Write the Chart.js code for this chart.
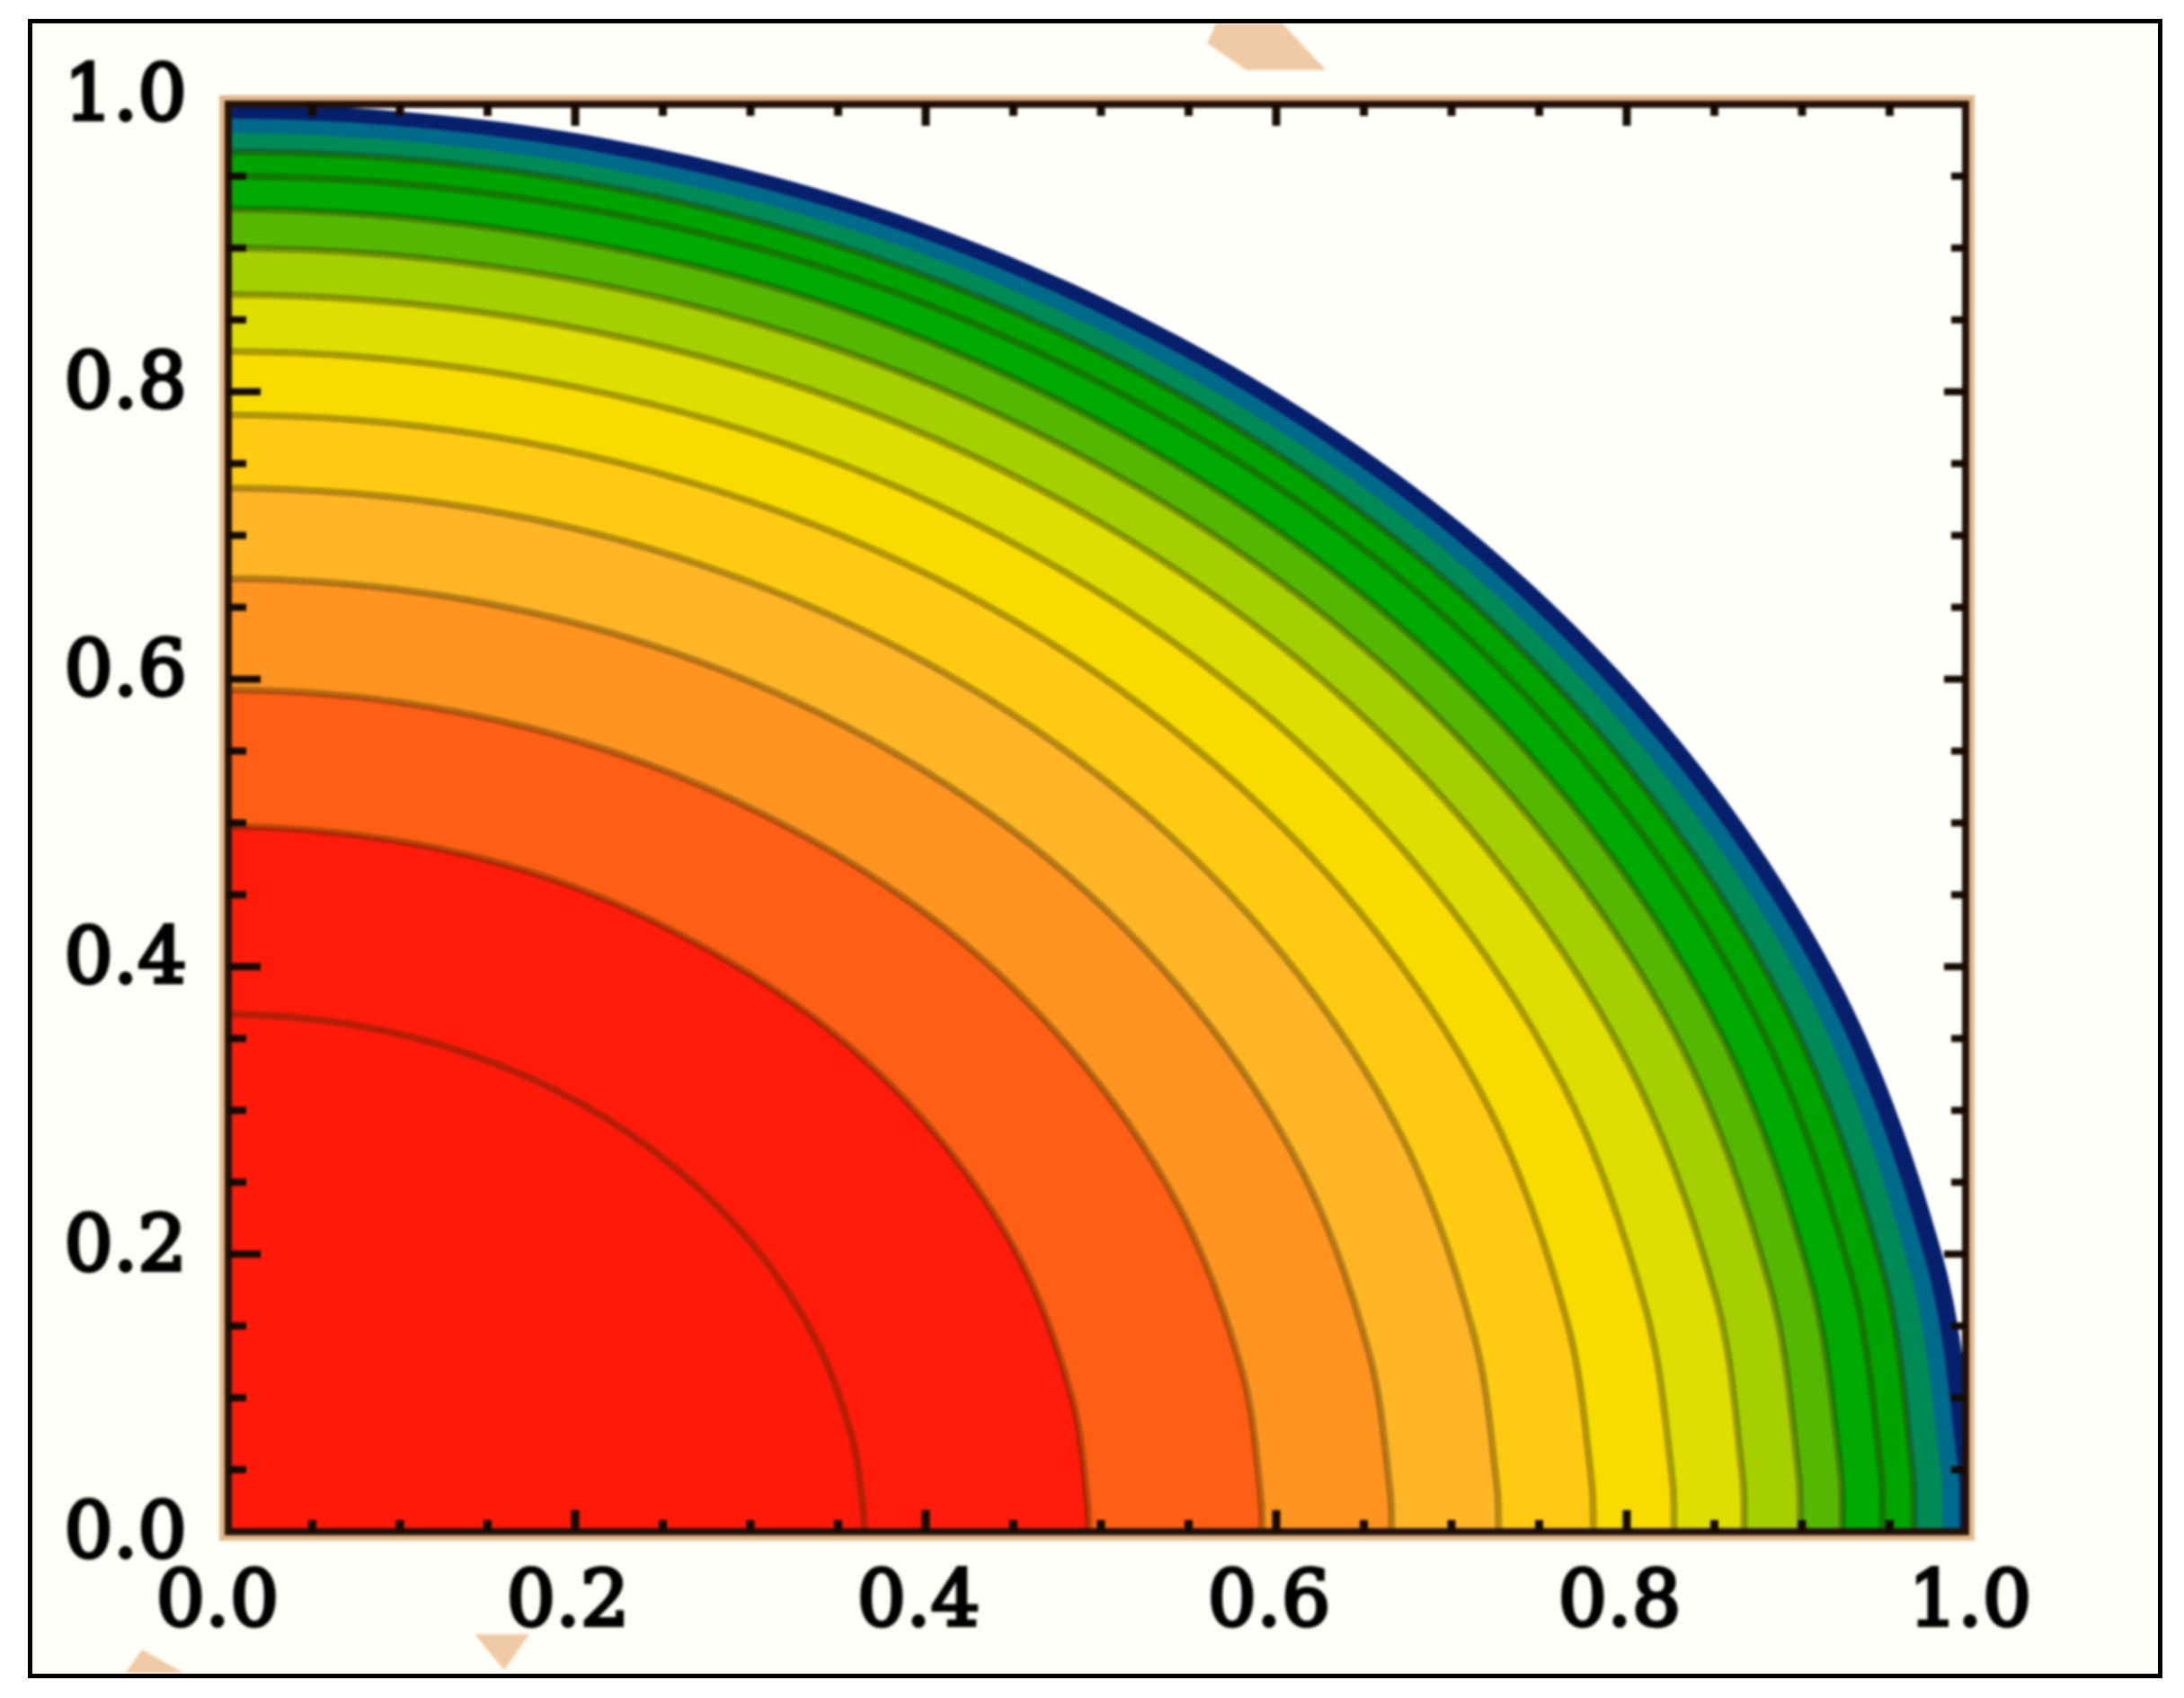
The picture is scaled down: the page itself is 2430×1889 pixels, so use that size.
<!DOCTYPE html>
<html>
<head>
<meta charset="utf-8">
<script src="https://cdn.jsdelivr.net/npm/chart.js@4/dist/chart.umd.min.js"></script>
<style>
html, body { margin: 0; padding: 0; background: #fff; }
canvas { display: block; filter: blur(1.5px); }
#frame { position: absolute; left: 31px; top: 21px; width: 2375px; height: 1846px; box-sizing: border-box; border: 5px solid #000; }
</style>
</head>
<body>
<canvas id="myChart" width="2430" height="1889"></canvas>
<div id="frame"></div>
<script>
// tick labels, every 4th tick (ticks every 0.05)
var xTickLabels = ['0.0', '0.2', '0.4', '0.6', '0.8', '1.0'];
var yTickLabels = ['0.0', '0.2', '0.4', '0.6', '0.8', '1.0'];

// contours, inner to outer
var c1x = [0, .071, .140, .203, .258, .303, .337, .358, .3645, .365];
var c1y = [.367, .360, .339, .305, .259, .204, .141, .072, .019, 0];
var c2x = [0, .096, .189, .274, .349, .410, .456, .484, .4923, .493];
var c2y = [.4975, .488, .460, .413, .352, .277, .191, .097, .026, 0];
var c3x = [0, .115, .227, .329, .419, .492, .547, .581, .5912, .592];
var c3y = [.5925, .581, .547, .492, .419, .329, .227, .116, .031, 0];
var c4x = [0, .130, .255, .370, .471, .553, .615, .653, .665, .666];
var c4y = [.67, .657, .619, .557, .474, .373, .257, .131, .035, 0];
var c5x = [0, .142, .278, .404, .514, .604, .672, .713, .726, .727];
var c5y = [.733, .719, .677, .609, .518, .408, .281, .143, .038, 0];
var c6x = [0, .152, .299, .434, .552, .649, .722, .766, .780, .781];
var c6y = [.784, .769, .724, .652, .554, .436, .300, .153, .041, 0];
var c7x = [0, .161, .317, .460, .585, .687, .764, .811, .826, .827];
var c7y = [.828, .812, .765, .688, .585, .460, .317, .161, .043, 0];
var c8x = [0, .169, .332, .482, .613, .720, .801, .851, .866, .867];
var c8y = [.8675, .851, .802, .721, .613, .482, .332, .169, .045, 0];
var c9x = [0, .175, .344, .500, .636, .747, .831, .882, .898, .899];
var c9y = [.90, .883, .832, .748, .636, .500, .345, .176, .047, 0];
var c10x = [0, .180, .354, .513, .653, .767, .853, .905, .922, .923];
var c10y = [.927, .909, .857, .770, .655, .515, .355, .181, .048, 0];
var c11x = [0, .184, .362, .526, .669, .786, .874, .928, .945, .946];
var c11y = [.95, .932, .878, .789, .672, .528, .364, .185, .049, 0];
var c12x = [0, .188, .369, .536, .682, .801, .891, .946, .963, .964];
var c12y = [.967, .949, .894, .804, .684, .538, .370, .189, .050, 0];
var c13x = [0, .191, .375, .545, .693, .814, .906, .961, .979, .98];
var c13y = [.98, .961, .906, .814, .693, .545, .375, .191, .051, 0];
var c14x = [0, .193, .379, .550, .700, .823, .915, .971, .989, .99];
var c14y = [.99, .971, .915, .823, .700, .550, .379, .193, .051, 0];
var c15x = [0, .195, .383, .556, .707, .831, .924, .981, .9986, 1];
var c15y = [1, .981, .924, .831, .707, .556, .383, .195, .052, 0];

var contourXs = [c1x, c2x, c3x, c4x, c5x, c6x, c7x, c8x, c9x, c10x, c11x, c12x, c13x, c14x, c15x];
var contourYs = [c1y, c2y, c3y, c4y, c5y, c6y, c7y, c8y, c9y, c10y, c11y, c12y, c13y, c14y, c15y];

var bandColors = ['#ff1a0a', '#ff1c0a', '#ff5f14', '#ff9420', '#ffb526', '#ffcb12', '#f8dc00',
    '#dede00', '#a5cf00', '#55b800', '#00aa00', '#00a400', '#008a55', '#006a8a', '#06206e'];

var datasets = contourXs.map(function (xs, i) {
    var ys = contourYs[i];
    var points = xs.map(function (x, j) { return { x: x, y: ys[j] }; });
    // reflect one point over the y axis (clipped away) so the curves meet it square
    points.unshift({ x: -xs[1], y: ys[1] });
    return {
        data: points,
        showLine: true,
        fill: 'origin',
        backgroundColor: bandColors[i],
        borderColor: 'rgba(50, 40, 0, 0.36)',
        borderWidth: i < 12 ? 8 : 0,
        tension: 0.33,
        pointRadius: 0
    };
});

// background and the scraps of watermark around the plot
var framePlugin = {
    id: 'frame',
    beforeDraw: function (chart) {
        var ctx = chart.ctx;
        ctx.save();
        ctx.fillStyle = '#ffffff';
        ctx.fillRect(0, 0, 2430, 1889);
        ctx.fillStyle = '#fffdf7';
        ctx.fillRect(33, 23, 2371, 1841);
        ctx.fillStyle = '#f0caa6';
        [[[1353, 26], [1343, 48], [1387, 78], [1475, 78], [1427, 26]],
         [[528, 1818], [589, 1818], [561, 1858]],
         [[140, 1861], [204, 1861], [158, 1835]]].forEach(function (shape) {
            ctx.beginPath();
            shape.forEach(function (p, i) { i ? ctx.lineTo(p[0], p[1]) : ctx.moveTo(p[0], p[1]); });
            ctx.closePath();
            ctx.fill();
        });
        ctx.restore();
    },
    beforeDatasetsDraw: function (chart) {
        var a = chart.chartArea;
        chart.ctx.fillStyle = '#fffffc';
        chart.ctx.fillRect(a.left, a.top, a.width, a.height);
    },
    afterDatasetsDraw: function (chart) {
        var ctx = chart.ctx, a = chart.chartArea;
        // the box stops a little short of the 1.0 and 0.0 ticks
        var left = 254, top = 116, right = 2187, bottom = 1704;
        ctx.save();
        ctx.fillStyle = '#fffdf7';
        ctx.fillRect(right, a.top - 12, a.right - right + 12, a.height + 24);
        ctx.fillRect(a.left - 12, bottom, a.width + 24, a.bottom - bottom + 12);
        ctx.fillRect(a.left - 12, a.top - 12, left - a.left + 12, a.height + 24);
        ctx.strokeStyle = 'rgba(215, 160, 100, 0.75)';
        ctx.lineWidth = 8;
        ctx.strokeRect(left - 6, top - 6, right - left + 12, bottom - top + 12);
        ctx.strokeStyle = '#24120a';
        ctx.lineWidth = 8;
        ctx.strokeRect(left, top, right - left, bottom - top);
        ctx.fillStyle = '#140a00';
        chart.scales.x.ticks.forEach(function (t, i) {
            var px = chart.scales.x.getPixelForValue(t.value);
            if (px <= left + 5 || px >= right - 5) return;
            var len = i % 4 === 0 ? 24 : 13;
            ctx.fillRect(px - 4.5, top, 9, len);
            ctx.fillRect(px - 4.5, bottom - len, 9, len);
        });
        chart.scales.y.ticks.forEach(function (t, i) {
            var py = chart.scales.y.getPixelForValue(t.value);
            if (py <= top + 5 || py >= bottom - 5) return;
            var major = i % 4 === 0;
            ctx.fillRect(left, py - 4, major ? 36 : 20, 8);
            ctx.fillRect(right - (major ? 24 : 16), py - 4, major ? 24 : 16, 8);
        });
        ctx.restore();
    }
};

var tickFont = { family: '"DejaVu Serif"', size: 86, lineHeight: 1 };

var myChart = new Chart(document.getElementById('myChart').getContext('2d'), {
    type: 'scatter',
    data: { datasets: datasets },
    plugins: [framePlugin],
    options: {
        responsive: false,
        animation: false,
        devicePixelRatio: 1,
        layout: { padding: { top: 116, right: 230, left: 0, bottom: 0 } },
        plugins: { legend: { display: false }, tooltip: { enabled: false } },
        scales: {
            x: {
                min: 0, max: 1,
                afterFit: function (scale) { scale.height = 174; },
                grid: { display: false },
                border: { display: false },
                ticks: {
                    stepSize: 0.05, autoSkip: false, maxRotation: 0, minRotation: 0,
                    padding: 20, labelOffset: -8, color: '#000', font: tickFont,
                    textStrokeColor: '#000', textStrokeWidth: 4,
                    callback: function (value, i) { return i % 4 === 0 ? xTickLabels[i / 4] : ''; }
                }
            },
            y: {
                min: 0, max: 1,
                afterFit: function (scale) { scale.width = 250; },
                grid: { display: false },
                border: { display: false },
                ticks: {
                    stepSize: 0.05, autoSkip: false,
                    padding: 34, labelOffset: -5, color: '#000', font: tickFont,
                    textStrokeColor: '#000', textStrokeWidth: 4,
                    callback: function (value, i) { return i % 4 === 0 ? yTickLabels[i / 4] : ''; }
                }
            }
        }
    }
});
</script>
</body>
</html>
